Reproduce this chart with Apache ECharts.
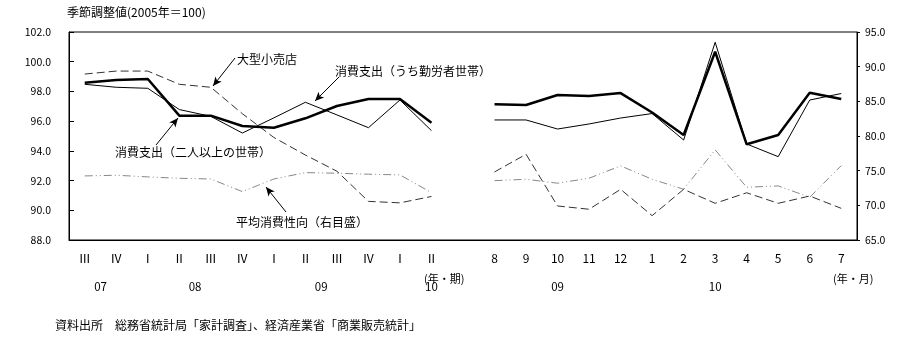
<!DOCTYPE html>
<html>
<head>
<meta charset="utf-8">
<script src="https://cdn.jsdelivr.net/npm/echarts@6/dist/echarts.min.js"></script>
<style>
html,body{margin:0;padding:0;background:#fff;}
#chart{width:921px;height:357px;}
</style>
</head>
<body>
<div id="chart"></div>
<script>
// ---- data ----
var quarterLabels = ['Ⅲ','Ⅳ','Ⅰ','Ⅱ','Ⅲ','Ⅳ','Ⅰ','Ⅱ','Ⅲ','Ⅳ','Ⅰ','Ⅱ'];
var monthLabels = ['8','9','10','11','12','1','2','3','4','5','6','7'];
// year labels: [position in half-category steps, text]
var yearLabels = [[2,'07'],[8,'08'],[16,'09'],[23,'10'],[31,'09'],[41,'10']];

var spendAllQ = [98.59, 98.77, 98.84, 96.37, 96.37, 95.67, 95.56, 96.19, 97.02, 97.49, 97.49, 95.90];
var spendAllM = [97.13, 97.09, 97.76, 97.69, 97.89, 96.58, 95.07, 100.67, 94.44, 95.07, 97.91, 97.49];

var spendWorkQ = [98.48, 98.28, 98.21, 96.78, 96.32, 95.20, 96.22, 97.27, 96.42, 95.56, 97.42, 95.36];
var spendWorkM = [96.08, 96.08, 95.47, 95.81, 96.21, 96.51, 94.73, 101.31, 94.46, 93.61, 97.42, 97.86];

var retailQ = [99.17, 99.37, 99.37, 98.48, 98.28, 96.50, 94.90, 93.72, 92.63, 90.60, 90.50, 90.93];
var retailM = [92.58, 93.77, 90.29, 90.07, 91.41, 89.64, 91.41, 90.47, 91.18, 90.47, 90.96, 90.13];

var propensityQ = [74.24, 74.34, 74.10, 73.90, 73.80, 71.98, 73.80, 74.72, 74.63, 74.49, 74.39, 71.83];
var propensityM = [73.56, 73.76, 73.19, 73.91, 75.69, 73.76, 72.32, 78.00, 72.61, 72.80, 71.17, 75.73];

// ---- build ----
var categories = quarterLabels.concat(['']).concat(monthLabels);
function join(q, m){ return q.concat(['-']).concat(m); }

var yearAxisData = [];
for (var i = 0; i <= categories.length * 2; i++) yearAxisData.push('');
yearLabels.forEach(function(p){ yearAxisData[p[0]] = p[1]; });

var FONT = '"Noto Sans CJK JP", "Noto Sans CJK SC", sans-serif';

var chart = echarts.init(document.getElementById('chart'), null, {renderer:'canvas'});
var option = {
  animation: false,
  backgroundColor: '#fff',
  textStyle: {fontFamily: FONT, color: '#000'},
  grid: {left: 69, right: 64, top: 32, bottom: 117, show: true, borderColor: '#000', borderWidth: 1, backgroundColor: 'transparent'},
  xAxis: [
    {
      type: 'category', data: categories, boundaryGap: true, position: 'bottom',
      axisLine: {show: true, lineStyle: {color: '#000', width: 1}},
      axisTick: {show: false},
      axisLabel: {interval: 0, margin: 12, fontSize: 12, color: '#000', fontFamily: FONT},
      splitLine: {show: false}
    },
    {
      type: 'category', data: yearAxisData, boundaryGap: false, position: 'bottom',
      axisLine: {show: false}, axisTick: {show: false},
      axisLabel: {interval: 0, margin: 41, fontSize: 11.5, color: '#000', fontFamily: FONT},
      splitLine: {show: false}
    }
  ],
  yAxis: [
    {
      type: 'value', min: 88, max: 102, interval: 2, position: 'left',
      axisLine: {show: true, lineStyle: {color: '#000', width: 1}},
      axisTick: {show: true, inside: true, length: 5, lineStyle: {color: '#000'}},
      axisLabel: {margin: 18, fontSize: 10.5, color: '#000', fontFamily: FONT,
        formatter: function(v){ return v.toFixed(1); }},
      splitLine: {show: false}
    },
    {
      type: 'value', min: 65, max: 95, interval: 5, position: 'right',
      axisLine: {show: true, lineStyle: {color: '#000', width: 1}},
      axisTick: {show: true, inside: false, length: 3, lineStyle: {color: '#000'}},
      axisLabel: {margin: 8, fontSize: 10.5, color: '#000', fontFamily: FONT,
        formatter: function(v){ return v.toFixed(1); }},
      splitLine: {show: false}
    }
  ],
  series: [
    {
      name: '消費支出（二人以上の世帯）', type: 'line', xAxisIndex: 0, yAxisIndex: 0,
      data: join(spendAllQ, spendAllM), showSymbol: false, connectNulls: false,
      lineStyle: {color: '#000', width: 2.5}, z: 5,
      markLine: {
        silent: true, symbol: ['none', 'arrow'], symbolSize: [6, 9],
        lineStyle: {color: '#000', width: 1, type: 'solid'},
        label: {show: false},
        data: [
          [{x: 235, y: 58}, {x: 213, y: 86}],
          [{x: 339, y: 77}, {x: 315, y: 101}],
          [{x: 156, y: 145}, {x: 178, y: 118}],
          [{x: 286, y: 212}, {x: 266, y: 187}]
        ]
      }
    },
    {
      name: '消費支出（うち勤労者世帯）', type: 'line', xAxisIndex: 0, yAxisIndex: 0,
      data: join(spendWorkQ, spendWorkM), showSymbol: false, connectNulls: false,
      lineStyle: {color: '#000', width: 1}, z: 4
    },
    {
      name: '大型小売店', type: 'line', xAxisIndex: 0, yAxisIndex: 0,
      data: join(retailQ, retailM), showSymbol: false, connectNulls: false,
      lineStyle: {color: '#333', width: 1, type: [8, 4]}, z: 3
    },
    {
      name: '平均消費性向（右目盛）', type: 'line', xAxisIndex: 0, yAxisIndex: 1,
      data: join(propensityQ, propensityM), showSymbol: false, connectNulls: false,
      lineStyle: {color: '#888', width: 1, type: [8, 3, 1, 3, 1, 3]}, z: 2
    }
  ],
  graphic: [
    {type: 'text', left: 67, top: 6, style: {text: '季節調整値(2005年＝100)', font: '12px ' + FONT, fill: '#000'}},
    {type: 'text', left: 237, top: 53, style: {text: '大型小売店', font: '12px ' + FONT, fill: '#000'}},
    {type: 'text', left: 335, top: 65, style: {text: '消費支出（うち勤労者世帯）', font: '12px ' + FONT, fill: '#000'}},
    {type: 'text', left: 115, top: 146, style: {text: '消費支出（二人以上の世帯）', font: '12px ' + FONT, fill: '#000'}},
    {type: 'text', left: 236, top: 216, style: {text: '平均消費性向（右目盛）', font: '12px ' + FONT, fill: '#000'}},
    {type: 'text', left: 424, top: 273, style: {text: '(年・期)', font: '11px ' + FONT, fill: '#000'}},
    {type: 'text', left: 833, top: 273, style: {text: '(年・月)', font: '11px ' + FONT, fill: '#000'}},
    {type: 'text', left: 55, top: 319, style: {text: '資料出所　総務省統計局「家計調査」、経済産業省「商業販売統計」', font: '12px ' + FONT, fill: '#000'}}
  ]
};
chart.setOption(option);
</script>
</body>
</html>
